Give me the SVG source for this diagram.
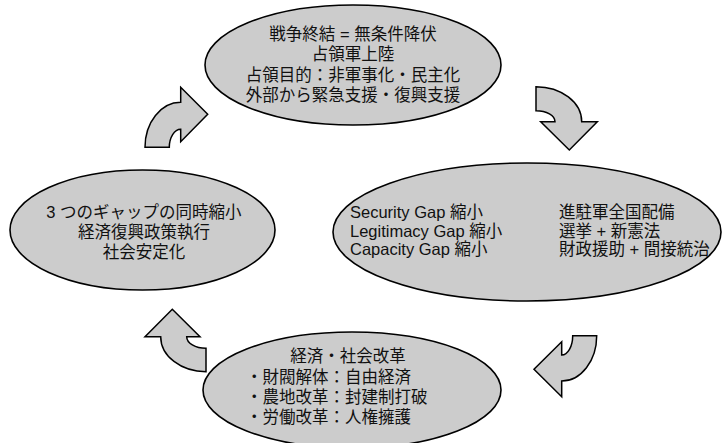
<svg xmlns="http://www.w3.org/2000/svg" width="724" height="443" viewBox="0 0 724 443">
<style>
.node{fill:#cccccc;stroke:#000;stroke-width:1.6}
.arrow{fill:#cccccc;stroke:#000;stroke-width:1.5;stroke-linejoin:miter}
text{font-family:"Liberation Sans","Noto Sans CJK JP",sans-serif;font-size:16.5px;fill:#111}
.c{text-anchor:middle}
</style>
<rect width="724" height="443" fill="#fff"/>
<g id="connectors">
<path class="arrow" d="M145 147.3 A35.7 45 0 0 1 180.7 102.3 L180.7 87.3 L207.7 114.3 L180.7 141.7 L180.7 129.3 A11.4 18 0 0 0 169.3 147.3 Z"/>
<path class="arrow" d="M536 86.7 A45.7 35 0 0 1 581.7 121.7 L597.3 121.7 L569.3 150 L540.7 121.7 L555 121.7 A19 11 0 0 0 536 110.7 Z"/>
<path class="arrow" d="M596.7 335.7 A35 45.3 0 0 1 561.7 381 L561.7 396.7 L534 369.3 L561.7 341.7 L561.7 355 A11 19.3 0 0 0 572.7 335.7 Z"/>
<path class="arrow" d="M206 371.7 A45.3 35 0 0 1 160.7 336.7 L145 336.7 L172.3 309.3 L200 336.7 L186.7 336.7 A19.3 11.6 0 0 0 206 348.3 Z"/>
</g>
<g id="node-top">
<ellipse class="node" cx="353" cy="65" rx="148" ry="60"/>
<text class="c" x="353" y="40">戦争終結 = 無条件降伏</text>
<text class="c" x="353" y="60">占領軍上陸</text>
<text class="c" x="353" y="81">占領目的：非軍事化・民主化</text>
<text class="c" x="353" y="101">外部から緊急支援・復興支援</text>
</g>
<g id="node-right">
<ellipse class="node" cx="527" cy="232" rx="194" ry="69"/>
<text x="350" y="218">Security Gap 縮小</text>
<text x="350" y="237">Legitimacy Gap 縮小</text>
<text x="350" y="255">Capacity Gap 縮小</text>
<text x="559" y="218">進駐軍全国配備</text>
<text x="559" y="237">選挙 + 新憲法</text>
<text x="559" y="255">財政援助 + 間接統治</text>
</g>
<g id="node-left">
<ellipse class="node" cx="142.5" cy="230" rx="132.5" ry="60"/>
<text class="c" x="144" y="218">3 つのギャップの同時縮小</text>
<text class="c" x="144" y="238">経済復興政策執行</text>
<text class="c" x="144" y="258">社会安定化</text>
</g>
<g id="node-bottom">
<ellipse class="node" cx="352" cy="390" rx="149" ry="58"/>
<text class="c" x="348" y="362">経済・社会改革</text>
<text x="246" y="383">・財閥解体：自由経済</text>
<text x="246" y="403">・農地改革：封建制打破</text>
<text x="246" y="423">・労働改革：人権擁護</text>
</g>
</svg>
